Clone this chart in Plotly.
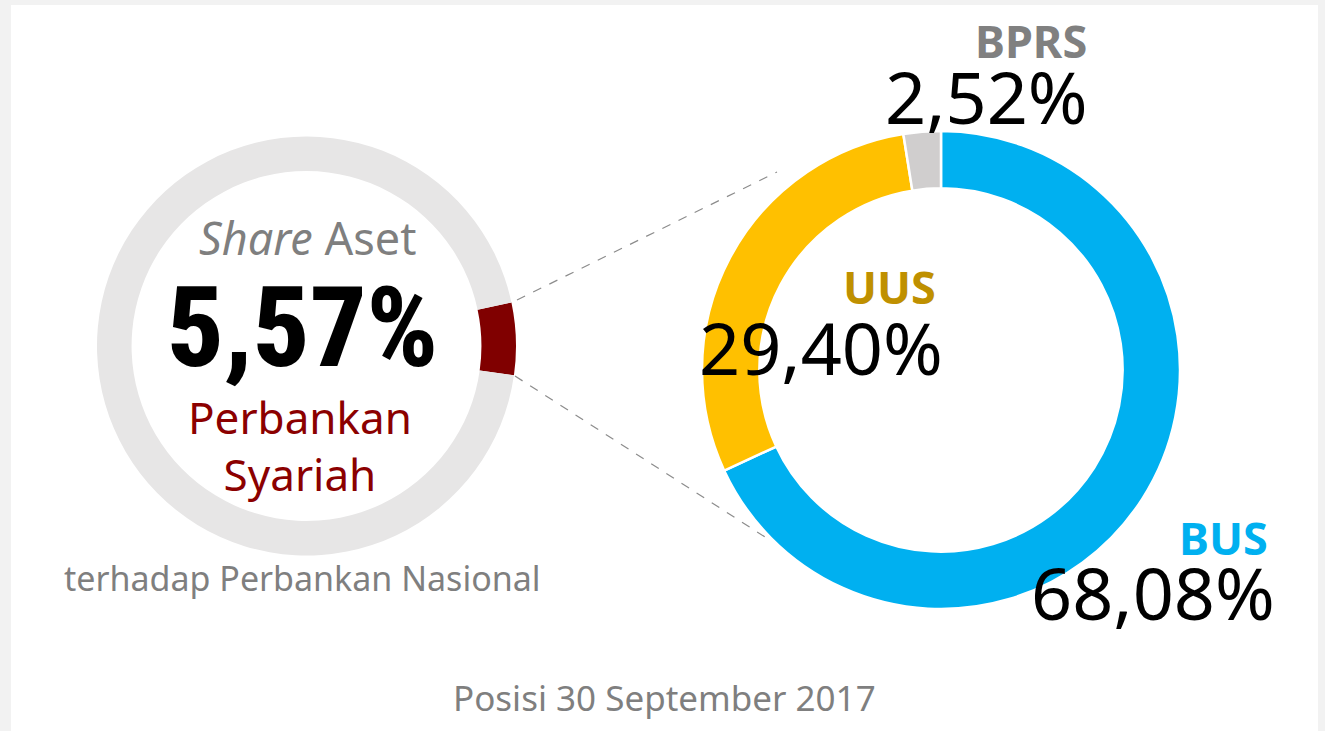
import plotly.graph_objects as go

W, H = 1325, 731

# Data
left_labels = ["Perbankan Syariah", "Lainnya"]
left_values = [5.57, 94.43]
left_colors = ["#800000", "#E7E6E6"]

right_labels = ["BUS", "UUS", "BPRS"]
right_values = [68.08, 29.40, 2.52]
right_colors = ["#00B0F0", "#FFC000", "#D0CECE"]
right_label_colors = ["#00B0F0", "#BF9000", "#808080"]

def px(x):
    return x / W

def py(y):
    return 1 - y / H

fig = go.Figure()

fig.add_trace(go.Pie(
    labels=left_labels, values=left_values, sort=False, direction="clockwise",
    rotation=78, hole=0.835, textinfo="none", hoverinfo="skip",
    marker=dict(colors=left_colors, line=dict(width=0)),
    domain=dict(x=[px(97), px(516)], y=[py(555.5), py(136.5)]),
    showlegend=False,
))

fig.add_trace(go.Pie(
    labels=right_labels, values=right_values, sort=False, direction="clockwise",
    rotation=0, hole=0.76, textinfo="none", hoverinfo="skip",
    marker=dict(colors=right_colors, line=dict(color="white", width=2.5)),
    domain=dict(x=[px(702), px(1180)], y=[py(609), py(131)]),
    showlegend=False,
))

SEG = "Noto Sans, Open Sans, DejaVu Sans, sans-serif"
COND = "Roboto, Liberation Sans, sans-serif"

def fmt(v):
    return f"{v:.2f}".replace(".", ",") + "%"

ann = []
def A(text, x, y, size, color, family=SEG, bold=False):
    t = f"<b>{text}</b>" if bold else text
    ann.append(dict(text=t, x=px(x), y=py(y), xref="paper", yref="paper",
                    showarrow=False, xanchor="center", yanchor="middle",
                    font=dict(size=size, color=color, family=family)))

A("<i>Share</i> Aset", 307, 237, 45, "#7F7F7F")
A('<span style="font-stretch:75%;font-weight:800">' + fmt(left_values[0]) + "</span>",
  302, 327, 112, "#000000", family=COND)
A(left_labels[0].replace(" ", "<br>"), 300, 445, 44, "#8B0000")
A("terhadap Perbankan Nasional", 302, 578, 34, "#7F7F7F")
A("Posisi 30 September 2017", 664, 697, 35, "#7F7F7F")

label_pos = [(1223, 537, 1153, 592), (889, 287, 821, 347), (1031, 40, 986, 96)]
for i, (lx, ly, vx, vy) in enumerate(label_pos):
    A(right_labels[i], lx, ly, 45, right_label_colors[i], bold=True)
    A(fmt(right_values[i]), vx, vy, 72, "#000000")

shapes = [
    dict(type="rect", xref="paper", yref="paper", x0=px(11), x1=px(1318),
         y0=0, y1=py(5), fillcolor="white", line=dict(width=0), layer="below"),
    dict(type="line", xref="paper", yref="paper", x0=px(517), y0=py(300),
         x1=px(777), y1=py(172), line=dict(color="#8C8C8C", width=1.2, dash="dash")),
    dict(type="line", xref="paper", yref="paper", x0=px(515), y0=py(376),
         x1=px(765), y1=py(537), line=dict(color="#8C8C8C", width=1.2, dash="dash")),
]

fig.update_layout(
    width=W, height=H, margin=dict(l=0, r=0, t=0, b=0),
    paper_bgcolor="#F2F2F2", plot_bgcolor="#F2F2F2",
    annotations=ann, shapes=shapes, showlegend=False,
)

fig.write_html("out.html", config={"displayModeBar": False},
               post_script="document.body.style.margin='0';"
                           "document.body.style.background='#F2F2F2';")
